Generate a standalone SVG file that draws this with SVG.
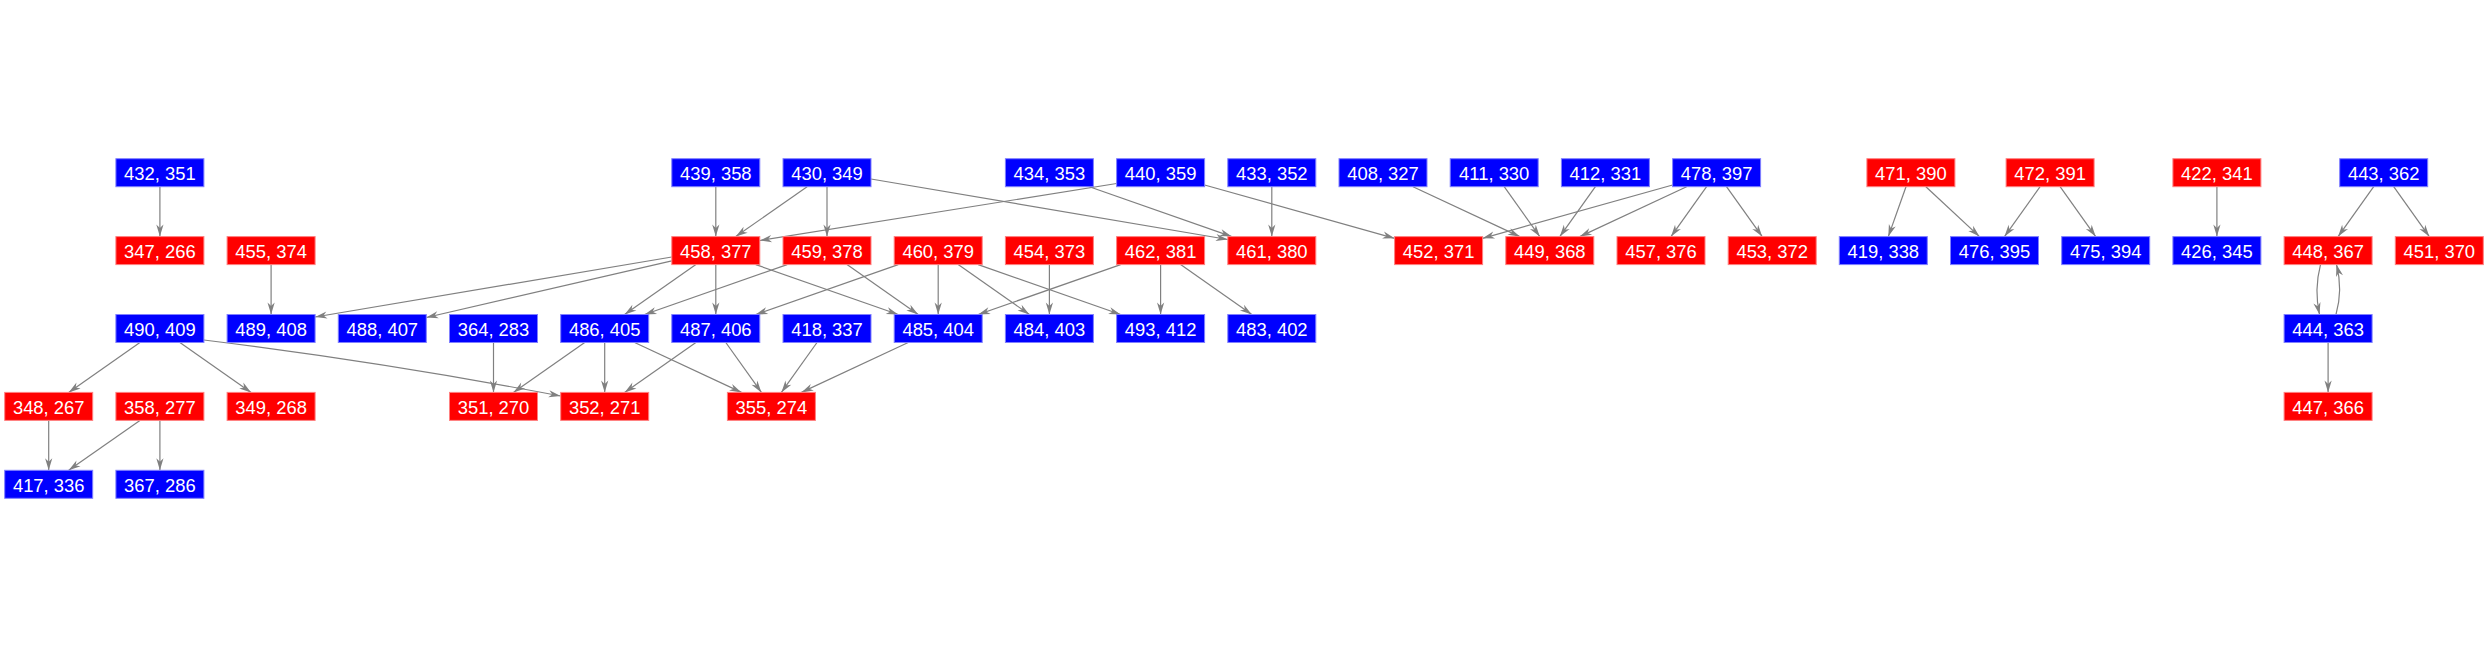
<svg xmlns="http://www.w3.org/2000/svg" width="2488" height="656" viewBox="0 0 2488 656">
<defs>
<marker id="ah" markerUnits="userSpaceOnUse" markerWidth="12" markerHeight="8" refX="12" refY="4" orient="auto" viewBox="0 0 12 8" overflow="visible">
<path d="M0,0.4 L12,4 L0,7.6 L3.5,4 Z" fill="#808080"/>
</marker>
</defs>
<style>
.n rect{stroke-width:1}
.b rect{fill:#0000ff;stroke:#8080ff}
.r rect{fill:#ff0000;stroke:#ff8080}
.n text{fill:#ffffff;font-family:"Liberation Sans",Arial,sans-serif;font-size:18.4px;text-anchor:middle}
#edges path{fill:none;stroke:#808080;stroke-width:1.2;marker-end:url(#ah)}
</style>
<rect width="2488" height="656" fill="#ffffff"/>
<g id="edges">
<path d="M159.9,186.7 L159.9,236.6"/>
<path d="M271.1,264.6 L271.1,314.5"/>
<path d="M671.8,257 L315.1,317"/>
<path d="M671.8,260.9 L426.3,317.5"/>
<path d="M695.9,264.6 L624.6,314.5"/>
<path d="M715.8,264.6 L715.8,314.5"/>
<path d="M755.8,264.6 L898.2,314.5"/>
<path d="M715.8,186.7 L715.8,236.6"/>
<path d="M807.1,186.7 L735.8,236.6"/>
<path d="M1116.6,183.5 L759.8,240.5"/>
<path d="M827,186.7 L827,236.6"/>
<path d="M871,179 L1227.8,239.5"/>
<path d="M1089.4,186.7 L1231.8,236.6"/>
<path d="M1271.8,186.7 L1271.8,236.6"/>
<path d="M1204.6,185 L1394.6,238.3"/>
<path d="M1413,186.7 L1519.8,236.6"/>
<path d="M1504.2,186.7 L1539.8,236.6"/>
<path d="M1595.4,186.7 L1559.8,236.6"/>
<path d="M1672.6,185 L1482.6,238.3"/>
<path d="M1686.6,186.7 L1579.8,236.6"/>
<path d="M1706.6,186.7 L1671,236.6"/>
<path d="M1726.5,186.7 L1762.2,236.6"/>
<path d="M787.1,264.6 L644.6,314.5"/>
<path d="M847,264.6 L918.2,314.5"/>
<path d="M898.2,264.6 L755.8,314.5"/>
<path d="M938.2,264.6 L938.2,314.5"/>
<path d="M958.2,264.6 L1029.4,314.5"/>
<path d="M978.2,264.6 L1120.6,314.5"/>
<path d="M1049.4,264.6 L1049.4,314.5"/>
<path d="M1120.6,264.6 L978.2,314.5"/>
<path d="M1160.6,264.6 L1160.6,314.5"/>
<path d="M1180.6,264.6 L1251.8,314.5"/>
<path d="M139.9,342.5 L68.7,392.4"/>
<path d="M179.9,342.5 L251.1,392.4"/>
<path d="M203.9,340 Q382,362 560.6,396"/>
<path d="M493.5,342.5 L493.5,392.4"/>
<path d="M584.7,342.5 L513.4,392.4"/>
<path d="M604.7,342.5 L604.7,392.4"/>
<path d="M634.6,342.5 L741.5,392.4"/>
<path d="M695.9,342.5 L624.6,392.4"/>
<path d="M725.8,342.5 L761.4,392.4"/>
<path d="M817,342.5 L781.4,392.4"/>
<path d="M908.2,342.5 L801.4,392.4"/>
<path d="M48.7,420.4 L48.7,470.3"/>
<path d="M139.9,420.4 L68.7,470.3"/>
<path d="M159.9,420.4 L159.9,470.3"/>
<path d="M1906,186.7 L1888.3,236.6"/>
<path d="M1925.9,186.7 L1979.5,236.6"/>
<path d="M2040.1,186.7 L2004.5,236.6"/>
<path d="M2060.1,186.7 L2095.7,236.6"/>
<path d="M2216.9,186.7 L2216.9,236.6"/>
<path d="M2373.7,186.7 L2338.1,236.6"/>
<path d="M2393.7,186.7 L2429.3,236.6"/>
<path d="M2320.5,264.6 Q2314,289.5 2319.5,314.5"/>
<path d="M2336,314.5 Q2343,289.5 2336.5,264.6"/>
<path d="M2328.1,342.5 L2328.1,392.4"/>
</g>
<g id="n432_351" class="n b" transform="translate(159.9,172.7)"><rect x="-44" y="-14" width="88" height="28"/><text y="7.5">432, 351</text></g>
<g id="n439_358" class="n b" transform="translate(715.8,172.7)"><rect x="-44" y="-14" width="88" height="28"/><text y="7.5">439, 358</text></g>
<g id="n430_349" class="n b" transform="translate(827,172.7)"><rect x="-44" y="-14" width="88" height="28"/><text y="7.5">430, 349</text></g>
<g id="n434_353" class="n b" transform="translate(1049.4,172.7)"><rect x="-44" y="-14" width="88" height="28"/><text y="7.5">434, 353</text></g>
<g id="n440_359" class="n b" transform="translate(1160.6,172.7)"><rect x="-44" y="-14" width="88" height="28"/><text y="7.5">440, 359</text></g>
<g id="n433_352" class="n b" transform="translate(1271.8,172.7)"><rect x="-44" y="-14" width="88" height="28"/><text y="7.5">433, 352</text></g>
<g id="n408_327" class="n b" transform="translate(1383,172.7)"><rect x="-44" y="-14" width="88" height="28"/><text y="7.5">408, 327</text></g>
<g id="n411_330" class="n b" transform="translate(1494.2,172.7)"><rect x="-44" y="-14" width="88" height="28"/><text y="7.5">411, 330</text></g>
<g id="n412_331" class="n b" transform="translate(1605.4,172.7)"><rect x="-44" y="-14" width="88" height="28"/><text y="7.5">412, 331</text></g>
<g id="n478_397" class="n b" transform="translate(1716.6,172.7)"><rect x="-44" y="-14" width="88" height="28"/><text y="7.5">478, 397</text></g>
<g id="n471_390" class="n r" transform="translate(1910.9,172.7)"><rect x="-44" y="-14" width="88" height="28"/><text y="7.5">471, 390</text></g>
<g id="n472_391" class="n r" transform="translate(2050.1,172.7)"><rect x="-44" y="-14" width="88" height="28"/><text y="7.5">472, 391</text></g>
<g id="n422_341" class="n r" transform="translate(2216.9,172.7)"><rect x="-44" y="-14" width="88" height="28"/><text y="7.5">422, 341</text></g>
<g id="n443_362" class="n b" transform="translate(2383.7,172.7)"><rect x="-44" y="-14" width="88" height="28"/><text y="7.5">443, 362</text></g>
<g id="n347_266" class="n r" transform="translate(159.9,250.6)"><rect x="-44" y="-14" width="88" height="28"/><text y="7.5">347, 266</text></g>
<g id="n455_374" class="n r" transform="translate(271.1,250.6)"><rect x="-44" y="-14" width="88" height="28"/><text y="7.5">455, 374</text></g>
<g id="n458_377" class="n r" transform="translate(715.8,250.6)"><rect x="-44" y="-14" width="88" height="28"/><text y="7.5">458, 377</text></g>
<g id="n459_378" class="n r" transform="translate(827,250.6)"><rect x="-44" y="-14" width="88" height="28"/><text y="7.5">459, 378</text></g>
<g id="n460_379" class="n r" transform="translate(938.2,250.6)"><rect x="-44" y="-14" width="88" height="28"/><text y="7.5">460, 379</text></g>
<g id="n454_373" class="n r" transform="translate(1049.4,250.6)"><rect x="-44" y="-14" width="88" height="28"/><text y="7.5">454, 373</text></g>
<g id="n462_381" class="n r" transform="translate(1160.6,250.6)"><rect x="-44" y="-14" width="88" height="28"/><text y="7.5">462, 381</text></g>
<g id="n461_380" class="n r" transform="translate(1271.8,250.6)"><rect x="-44" y="-14" width="88" height="28"/><text y="7.5">461, 380</text></g>
<g id="n452_371" class="n r" transform="translate(1438.6,250.6)"><rect x="-44" y="-14" width="88" height="28"/><text y="7.5">452, 371</text></g>
<g id="n449_368" class="n r" transform="translate(1549.8,250.6)"><rect x="-44" y="-14" width="88" height="28"/><text y="7.5">449, 368</text></g>
<g id="n457_376" class="n r" transform="translate(1661,250.6)"><rect x="-44" y="-14" width="88" height="28"/><text y="7.5">457, 376</text></g>
<g id="n453_372" class="n r" transform="translate(1772.2,250.6)"><rect x="-44" y="-14" width="88" height="28"/><text y="7.5">453, 372</text></g>
<g id="n419_338" class="n b" transform="translate(1883.3,250.6)"><rect x="-44" y="-14" width="88" height="28"/><text y="7.5">419, 338</text></g>
<g id="n476_395" class="n b" transform="translate(1994.5,250.6)"><rect x="-44" y="-14" width="88" height="28"/><text y="7.5">476, 395</text></g>
<g id="n475_394" class="n b" transform="translate(2105.7,250.6)"><rect x="-44" y="-14" width="88" height="28"/><text y="7.5">475, 394</text></g>
<g id="n426_345" class="n b" transform="translate(2216.9,250.6)"><rect x="-44" y="-14" width="88" height="28"/><text y="7.5">426, 345</text></g>
<g id="n448_367" class="n r" transform="translate(2328.1,250.6)"><rect x="-44" y="-14" width="88" height="28"/><text y="7.5">448, 367</text></g>
<g id="n451_370" class="n r" transform="translate(2439.3,250.6)"><rect x="-44" y="-14" width="88" height="28"/><text y="7.5">451, 370</text></g>
<g id="n490_409" class="n b" transform="translate(159.9,328.5)"><rect x="-44" y="-14" width="88" height="28"/><text y="7.5">490, 409</text></g>
<g id="n489_408" class="n b" transform="translate(271.1,328.5)"><rect x="-44" y="-14" width="88" height="28"/><text y="7.5">489, 408</text></g>
<g id="n488_407" class="n b" transform="translate(382.3,328.5)"><rect x="-44" y="-14" width="88" height="28"/><text y="7.5">488, 407</text></g>
<g id="n364_283" class="n b" transform="translate(493.5,328.5)"><rect x="-44" y="-14" width="88" height="28"/><text y="7.5">364, 283</text></g>
<g id="n486_405" class="n b" transform="translate(604.7,328.5)"><rect x="-44" y="-14" width="88" height="28"/><text y="7.5">486, 405</text></g>
<g id="n487_406" class="n b" transform="translate(715.8,328.5)"><rect x="-44" y="-14" width="88" height="28"/><text y="7.5">487, 406</text></g>
<g id="n418_337" class="n b" transform="translate(827,328.5)"><rect x="-44" y="-14" width="88" height="28"/><text y="7.5">418, 337</text></g>
<g id="n485_404" class="n b" transform="translate(938.2,328.5)"><rect x="-44" y="-14" width="88" height="28"/><text y="7.5">485, 404</text></g>
<g id="n484_403" class="n b" transform="translate(1049.4,328.5)"><rect x="-44" y="-14" width="88" height="28"/><text y="7.5">484, 403</text></g>
<g id="n493_412" class="n b" transform="translate(1160.6,328.5)"><rect x="-44" y="-14" width="88" height="28"/><text y="7.5">493, 412</text></g>
<g id="n483_402" class="n b" transform="translate(1271.8,328.5)"><rect x="-44" y="-14" width="88" height="28"/><text y="7.5">483, 402</text></g>
<g id="n444_363" class="n b" transform="translate(2328.1,328.5)"><rect x="-44" y="-14" width="88" height="28"/><text y="7.5">444, 363</text></g>
<g id="n348_267" class="n r" transform="translate(48.7,406.4)"><rect x="-44" y="-14" width="88" height="28"/><text y="7.5">348, 267</text></g>
<g id="n358_277" class="n r" transform="translate(159.9,406.4)"><rect x="-44" y="-14" width="88" height="28"/><text y="7.5">358, 277</text></g>
<g id="n349_268" class="n r" transform="translate(271.1,406.4)"><rect x="-44" y="-14" width="88" height="28"/><text y="7.5">349, 268</text></g>
<g id="n351_270" class="n r" transform="translate(493.5,406.4)"><rect x="-44" y="-14" width="88" height="28"/><text y="7.5">351, 270</text></g>
<g id="n352_271" class="n r" transform="translate(604.7,406.4)"><rect x="-44" y="-14" width="88" height="28"/><text y="7.5">352, 271</text></g>
<g id="n355_274" class="n r" transform="translate(771.4,406.4)"><rect x="-44" y="-14" width="88" height="28"/><text y="7.5">355, 274</text></g>
<g id="n447_366" class="n r" transform="translate(2328.1,406.4)"><rect x="-44" y="-14" width="88" height="28"/><text y="7.5">447, 366</text></g>
<g id="n417_336" class="n b" transform="translate(48.7,484.3)"><rect x="-44" y="-14" width="88" height="28"/><text y="7.5">417, 336</text></g>
<g id="n367_286" class="n b" transform="translate(159.9,484.3)"><rect x="-44" y="-14" width="88" height="28"/><text y="7.5">367, 286</text></g>
</svg>
